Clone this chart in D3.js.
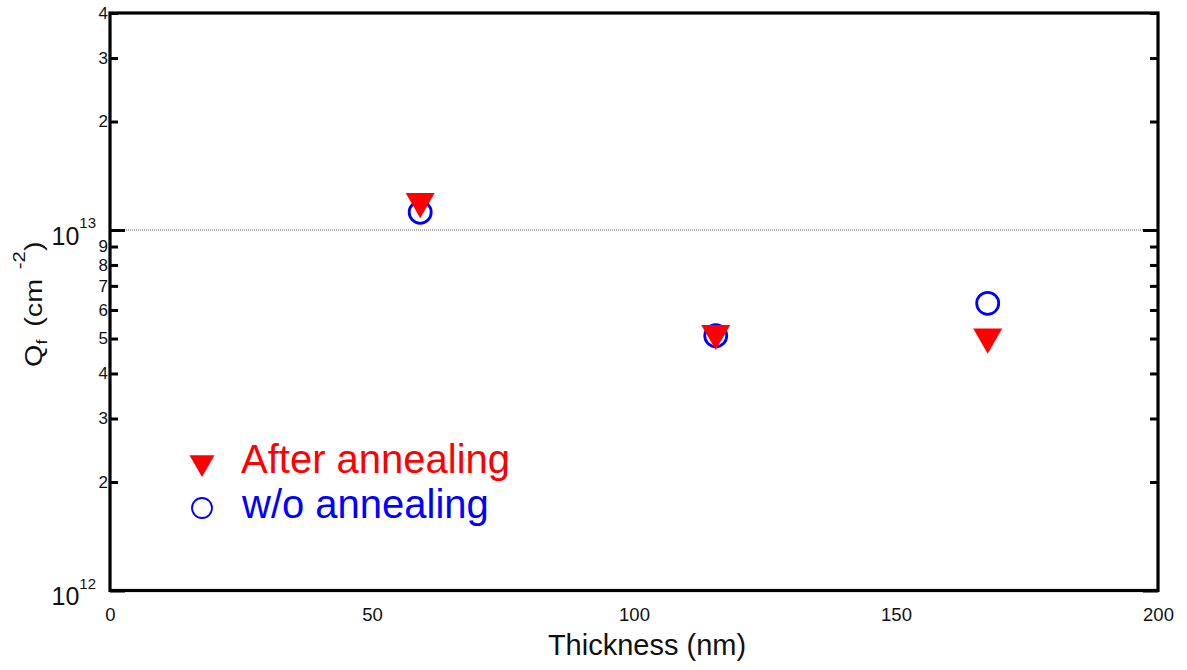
<!DOCTYPE html>
<html>
<head>
<meta charset="utf-8">
<script src="https://cdn.jsdelivr.net/npm/d3@7/dist/d3.min.js"></script>
<style>
  html, body { margin: 0; padding: 0; background: #fff; }
  svg { display: block; font-family: "Liberation Sans", Arial, Helvetica, sans-serif; }
</style>
</head>
<body>
<svg id="chart" width="1187" height="670"></svg>
<script>
// Fixed charge density versus film thickness
const thickness = [59.2, 115.6, 167.5];            // nm
const qfAfterAnnealing = [1.20e13, 5.17e12, 5.05e12]; // cm^-2
const qfWithoutAnnealing = [1.12e13, 5.09e12, 6.26e12]; // cm^-2

const xTicks = [0, 50, 100, 150, 200];
const yDecadeTicks = [1e12, 1e13];
const yMinorTicks = [2e12, 3e12, 4e12, 5e12, 6e12, 7e12, 8e12, 9e12, 2e13, 3e13, 4e13];
const legendLabels = ["After annealing", "w/o annealing"];

const colorAnnealed = "#ff0000";
const colorRaw = "#0000ff";

const svg = d3.select("#chart");
const plotLeft = 110, plotRight = 1158, plotTop = 13, plotBottom = 590.5;

const x = d3.scaleLinear().domain([0, 200]).range([plotLeft, plotRight]);
const y = d3.scaleLog().domain([1e12, 4e13]).range([plotBottom, plotTop]);

// Dotted reference line at 10^13
svg.append("line")
  .attr("x1", plotLeft).attr("x2", plotRight)
  .attr("y1", y(1e13)).attr("y2", y(1e13))
  .attr("stroke", "#666").attr("stroke-width", 1)
  .attr("stroke-dasharray", "1,1");

// Left axis: minor ticks with mantissa labels
const yLeftMinor = svg.append("g")
  .attr("transform", `translate(${plotLeft},0)`)
  .call(d3.axisLeft(y).tickValues(yMinorTicks)
    .tickFormat(d => Math.round(d / Math.pow(10, Math.floor(Math.log10(d) + 1e-9))))
    .tickSizeInner(-8).tickSizeOuter(0).tickPadding(2));
yLeftMinor.select(".domain").remove();
yLeftMinor.selectAll("line").attr("stroke", "#000").attr("stroke-width", 3);
yLeftMinor.selectAll("text")
  .attr("font-size", 17).attr("fill", "#111")
  .attr("font-family", "Liberation Sans, Arial, sans-serif");

// Left axis: decade ticks
const yLeftMajor = svg.append("g")
  .attr("transform", `translate(${plotLeft},0)`)
  .call(d3.axisLeft(y).tickValues(yDecadeTicks).tickFormat("")
    .tickSizeInner(-15).tickSizeOuter(0));
yLeftMajor.select(".domain").remove();
yLeftMajor.selectAll("line").attr("stroke", "#000").attr("stroke-width", 3);

// Decade labels written as 10 with an exponent
const decadeLabels = svg.append("g");
yDecadeTicks.forEach(v => {
  const t = decadeLabels.append("text")
    .attr("x", 96).attr("y", y(v) + 14.5)
    .attr("text-anchor", "end").attr("fill", "#111");
  t.append("tspan").attr("font-size", 25).text("10");
  t.append("tspan").attr("font-size", 15).attr("dy", -16.5)
    .text(Math.round(Math.log10(v)));
});

// Right axis: mirrored ticks without labels
const yRightMinor = svg.append("g")
  .attr("transform", `translate(${plotRight},0)`)
  .call(d3.axisRight(y).tickValues(yMinorTicks).tickFormat("")
    .tickSizeInner(-8).tickSizeOuter(0));
yRightMinor.select(".domain").remove();
yRightMinor.selectAll("line").attr("stroke", "#000").attr("stroke-width", 3);

const yRightMajor = svg.append("g")
  .attr("transform", `translate(${plotRight},0)`)
  .call(d3.axisRight(y).tickValues(yDecadeTicks).tickFormat("")
    .tickSizeInner(-15).tickSizeOuter(0));
yRightMajor.select(".domain").remove();
yRightMajor.selectAll("line").attr("stroke", "#000").attr("stroke-width", 3);

// Bottom axis: labels only
const xAxis = svg.append("g")
  .attr("transform", `translate(0,${plotBottom})`)
  .call(d3.axisBottom(x).tickValues(xTicks).tickFormat(d3.format("d"))
    .tickSize(0).tickPadding(17.5));
xAxis.select(".domain").remove();
xAxis.selectAll("text")
  .attr("font-size", 18.5).attr("fill", "#111")
  .attr("font-family", "Liberation Sans, Arial, sans-serif");

// Plot frame
svg.append("rect")
  .attr("x", plotLeft).attr("y", plotTop)
  .attr("width", plotRight - plotLeft).attr("height", plotBottom - plotTop)
  .attr("fill", "none").attr("stroke", "#000").attr("stroke-width", 3.2);

// Axis titles
svg.append("text")
  .attr("x", 647).attr("y", 655)
  .attr("text-anchor", "middle").attr("font-size", 29).attr("fill", "#111")
  .text("Thickness (nm)");

// Vertical title, widened along its run
const yTitle = svg.append("text")
  .attr("transform", "translate(42,367) rotate(-90) scale(1.2,1)")
  .attr("font-size", 24).attr("fill", "#111");
yTitle.append("tspan").text("Q");
yTitle.append("tspan").attr("font-size", 15).attr("dy", 5).text("f");
yTitle.append("tspan").attr("dy", -5).attr("dx", 4).text(" (cm");
yTitle.append("tspan").attr("font-size", 17).attr("dy", -17).attr("dx", 8).text("-2");
yTitle.append("tspan").attr("dy", 17).text(")");

// Data markers
const tri = d3.symbol().type(d3.symbolTriangle);
const triArea = w => Math.sqrt(3) / 4 * w * w;

svg.append("g").selectAll("circle")
  .data(thickness.map((t, i) => [t, qfWithoutAnnealing[i]]))
  .join("circle")
  .attr("cx", d => x(d[0])).attr("cy", d => y(d[1]))
  .attr("r", 11)
  .attr("fill", "none").attr("stroke", colorRaw).attr("stroke-width", 2.8);

svg.append("g").selectAll("path")
  .data(thickness.map((t, i) => [t, qfAfterAnnealing[i]]))
  .join("path")
  .attr("d", tri.size(triArea(29))())
  .attr("transform", d => `translate(${x(d[0])},${y(d[1])}) rotate(180)`)
  .attr("fill", colorAnnealed);

// Legend
const legend = svg.append("g");
legend.append("path")
  .attr("d", d3.symbol().type(d3.symbolTriangle).size(triArea(25))())
  .attr("transform", "translate(202,462.5) rotate(180)")
  .attr("fill", colorAnnealed);
legend.append("text")
  .attr("x", 241).attr("y", 473)
  .attr("font-size", 40).attr("fill", colorAnnealed)
  .text(legendLabels[0]);
legend.append("circle")
  .attr("cx", 202).attr("cy", 508).attr("r", 10)
  .attr("fill", "none").attr("stroke", colorRaw).attr("stroke-width", 1.8);
legend.append("text")
  .attr("x", 242).attr("y", 518)
  .attr("font-size", 40).attr("fill", colorRaw)
  .text(legendLabels[1]);
</script>
</body>
</html>
